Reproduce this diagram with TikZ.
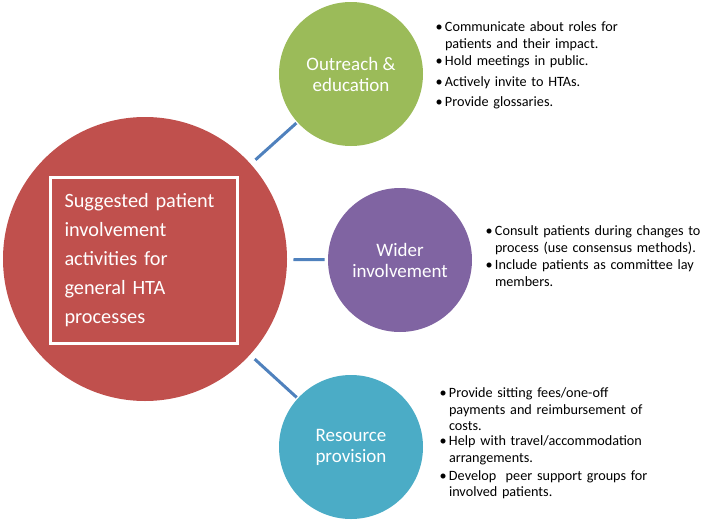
\documentclass[tikz,border=0pt]{standalone}
\usepackage{fontspec}
\setmainfont{Carlito}
\usetikzlibrary{positioning,shadows}

\definecolor{hred}{HTML}{C0504D}
\definecolor{hgreen}{HTML}{9BBB59}
\definecolor{hpurple}{HTML}{8064A2}
\definecolor{haqua}{HTML}{4BACC6}
\definecolor{hlink}{HTML}{4F81BD}

\newcommand{\notesfont}{\fontsize{14.2}{16.8}\selectfont}
\newcommand{\bitem}[1]{\noindent\makebox[9.5pt][l]{\textbullet}%
  \parbox[t]{\dimexpr\hsize-9.5pt\relax}{#1}\par\vskip4pt}

\begin{document}
\begin{tikzpicture}[x=1pt, y=-1pt, line width=3pt,
topic/.style={circle, fill=#1, minimum size=144pt, inner sep=0pt, text=white,
  align=center, font=\fontsize{19}{21}\selectfont},
notes/.style={anchor=north west, inner sep=0pt, text width=#1, font=\notesfont}]

\useasboundingbox (0,0) rectangle (704,522);

\node [circle, fill=hred, minimum size=284pt, inner sep=0pt] (main) at (145,259) {};
\node [draw=white, fill=hred, drop shadow={shadow xshift=1.5pt, shadow yshift=-2pt, opacity=0.35},
  minimum width=187pt, minimum height=166pt, text width=158pt, align=left, text=white,
  font=\fontsize{20.3}{29}\selectfont] (title) at (143.5,260)
  {Suggested patient\\ involvement\\ activities for\\ general HTA\\ processes};

\node [topic=hgreen] (outreach) at (351,74) {Outreach \&\\ education};
\node [topic=hpurple] (wider) at (400,260) {Wider\\ involvement};
\node [topic=haqua] (resource) at (351,447) {Resource\\ provision};

\path (main) edge [hlink, shorten <=5pt] (outreach);
\path (main) edge [hlink, shorten <=5pt, shorten >=2pt] (wider);
\path (main) edge [hlink, shorten <=5pt] (resource);

\node [notes=250pt] (outreachnotes) at (434,20)
  {\bitem{Communicate about roles for\\ patients and their impact.}
   \bitem{Hold meetings in public.}
   \bitem{Actively invite to HTAs.}
   \bitem{Provide glossaries.}};
\node [notes=219pt] (widernotes) at (484,224)
  {\bitem{Consult patients during changes to\\ process (use consensus methods).}
   \bitem{Include patients as committee lay\\ members.}};
\node [notes=250pt] (resourcenotes) at (438,386)
  {\bitem{Provide sitting fees/one-off\\ payments and reimbursement of\\ costs.}
   \bitem{Help with travel/accommodation\\ arrangements.}
   \bitem{Develop\ \ peer support groups for\\ involved patients.}};
\end{tikzpicture}
\end{document}
